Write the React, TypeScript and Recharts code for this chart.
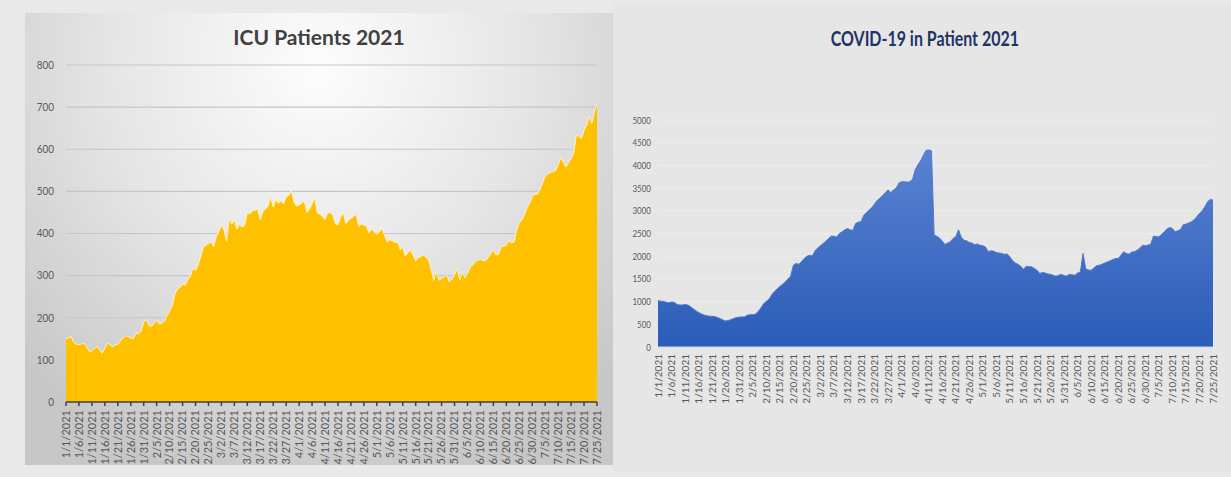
import React from "react";
import { AreaChart, Area, XAxis, YAxis, CartesianGrid } from "recharts";

// one label per day, 1/1/2021 .. 7/25/2021
const dates: string[] = Array.from({ length: 206 }, (_, i) => {
  const d = new Date(2021, 0, 1 + i);
  return `${d.getMonth() + 1}/${d.getDate()}/2021`;
});

const icuPatients = [
  150, 152, 155, 142, 137, 136, 138, 139, 132, 120,
  122, 127, 132, 124, 116, 128, 140, 136, 131, 136,
  137, 145, 152, 157, 155, 152, 150, 163, 162, 168,
  190, 196, 182, 180, 186, 195, 185, 187, 192, 205,
  216, 228, 255, 268, 272, 280, 277, 290, 298, 318,
  312, 325, 345, 366, 372, 376, 380, 368, 392, 405,
  420, 408, 382, 436, 422, 432, 410, 422, 415, 420,
  450, 446, 454, 455, 458, 432, 452, 458, 465, 487,
  463, 481, 472, 478, 470, 487, 490, 502, 474, 465,
  468, 472, 477, 450, 458, 470, 486, 448, 446, 440,
  433, 449, 449, 444, 424, 420, 438, 451, 424, 430,
  436, 440, 446, 417, 422, 420, 417, 402, 410, 404,
  398, 404, 412, 395, 380, 385, 383, 378, 380, 362,
  367, 346, 355, 360, 349, 335, 343, 345, 349, 343,
  337, 313, 289, 311, 289, 293, 297, 301, 285, 292,
  302, 317, 289, 309, 295, 305, 319, 325, 333, 337,
  338, 336, 335, 343, 352, 362, 349, 351, 368, 370,
  372, 383, 378, 380, 408, 425, 432, 445, 460, 472,
  488, 493, 493, 505, 520, 535, 541, 545, 547, 549,
  562, 580, 570, 558, 568, 578, 590, 634, 630, 626,
  645, 657, 679, 661, 689, 709,
];

const covidInpatients = [
  1020, 1010, 1005, 985, 975, 990, 985, 940, 925, 925,
  935, 925, 890, 840, 800, 760, 730, 705, 690, 680,
  676, 670, 650, 625, 595, 575, 585, 605, 630, 650,
  660, 662, 665, 700, 713, 710, 725, 780, 860, 950,
  1010, 1050, 1150, 1220, 1280, 1330, 1380, 1430, 1500, 1560,
  1800, 1840, 1820, 1880, 1950, 2000, 2020, 2005, 2120, 2180,
  2230, 2280, 2330, 2390, 2440, 2440, 2420, 2500, 2540, 2580,
  2610, 2580, 2570, 2720, 2750, 2760, 2900, 2960, 3020, 3070,
  3150, 3230, 3280, 3340, 3400, 3460, 3400, 3460, 3500, 3610,
  3640, 3640, 3630, 3640, 3690, 3900, 4010, 4100, 4220, 4330,
  4340, 4320, 2460, 2440, 2400, 2330, 2260, 2290, 2320, 2390,
  2430, 2580, 2420, 2350, 2340, 2300, 2290, 2250, 2270, 2240,
  2230, 2200, 2100, 2120, 2110, 2080, 2070, 2060, 2040, 2050,
  1985, 1900, 1850, 1820, 1780, 1710, 1780, 1770, 1765, 1730,
  1690, 1620, 1640, 1630, 1610, 1600, 1580, 1560, 1580, 1600,
  1570, 1566, 1600, 1590, 1581, 1630, 1654, 2060, 1720, 1695,
  1691, 1740, 1790, 1800, 1824, 1850, 1875, 1900, 1926, 1950,
  1949, 2020, 2096, 2060, 2044, 2090, 2100, 2132, 2180, 2243,
  2230, 2243, 2265, 2441, 2430, 2426, 2480, 2537, 2600, 2632,
  2610, 2537, 2560, 2588, 2690, 2706, 2730, 2757, 2800, 2868,
  2941, 3000, 3088, 3198, 3250, 3235,
];

const icuTicks = [0, 100, 200, 300, 400, 500, 600, 700, 800];
const covidTicks = [0, 500, 1000, 1500, 2000, 2500, 3000, 3500, 4000, 4500, 5000];

const icuData = dates.map((date, i) => ({ date, icu: icuPatients[i] }));
const covidData = dates.map((date, i) => ({ date, covid: covidInpatients[i] }));

const FONT = "Lato, 'Noto Sans', sans-serif";

function DateTick(props: any) {
  const { x, y, payload, size } = props;
  return (
    <g transform={`translate(${x},${y})`}>
      <text
        x={0}
        y={0}
        dy="0.35em"
        textAnchor="end"
        transform="rotate(-90)"
        fill="#595959"
        fontSize={size}
        fontFamily={FONT}
      >
        {payload.value}
      </text>
    </g>
  );
}

function ValueTick(props: any) {
  const { x, y, payload, size, squeeze } = props;
  return (
    <text
      transform={`translate(${x},${y}) scale(${squeeze},1)`}
      dy="0.35em"
      textAnchor="end"
      fill="#595959"
      fontSize={size}
      fontFamily={FONT}
    >
      {payload.value}
    </text>
  );
}

export default function App() {
  return (
    <div
      style={{
        position: "absolute",
        left: 0,
        top: 0,
        width: 1231,
        height: 477,
        background: "#e9e9e9",
        overflow: "hidden",
        fontFamily: FONT,
      }}
    >
      {/* left panel with soft radial shading */}
      <div
        style={{
          position: "absolute",
          left: 25,
          top: 13,
          width: 588,
          height: 452,
          background:
            "radial-gradient(ellipse 70% 95% at 50% 12%, #fdfdfd 0%, #e6e6e6 50%, #c7c7c7 100%)",
        }}
      />
      <div
        style={{
          position: "absolute",
          left: 613,
          top: 4,
          width: 618,
          height: 468,
          background: "#e6e6e6",
        }}
      />

      <div
        style={{
          position: "absolute",
          left: 25,
          width: 588,
          top: 24,
          textAlign: "center",
          fontSize: 21,
          fontWeight: 700,
          color: "#404040",
        }}
      >
        ICU Patients 2021
      </div>

      <div
        style={{
          position: "absolute",
          left: 613,
          width: 618,
          top: 25,
          textAlign: "center",
        }}
      >
        <span
          style={{
            display: "inline-block",
            marginLeft: 6,
            fontSize: 21,
            fontWeight: 700,
            color: "#1f3366",
            transform: "scaleX(0.76)",
          }}
        >
          COVID-19 in Patient 2021
        </span>
      </div>

      <div style={{ position: "absolute", left: 0, top: 0 }}>
        <AreaChart
          width={620}
          height={477}
          data={icuData}
          margin={{ top: 65, right: 23, bottom: 5, left: 26 }}
        >
          <CartesianGrid vertical={false} stroke="#c6c6c6" strokeWidth={1.2} />
          <XAxis
            dataKey="date"
            interval={4}
            height={70}
            tickSize={4}
            tickMargin={4}
            axisLine={{ stroke: "#404040", strokeWidth: 1.5 }}
            tickLine={{ stroke: "#404040", strokeWidth: 1.5 }}
            tick={<DateTick size={11} />}
          />
          <YAxis
            width={40}
            domain={[0, 800]}
            ticks={icuTicks}
            interval={0}
            axisLine={false}
            tickLine={false}
            tickSize={0}
            tickMargin={12}
            tick={<ValueTick size={11} squeeze={0.9} />}
          />
          <Area
            type="linear"
            dataKey="icu"
            fill="#ffc000"
            fillOpacity={1}
            stroke="#fff3c4"
            strokeWidth={1}
            dot={false}
            activeDot={false}
            isAnimationActive={false}
          />
        </AreaChart>
      </div>

      <div style={{ position: "absolute", left: 612, top: 0 }}>
        <AreaChart
          width={619}
          height={477}
          data={covidData}
          margin={{ top: 120, right: 18, bottom: 60, left: 6 }}
        >
          <defs>
            <linearGradient id="covidFill" x1="0" y1="0" x2="0" y2="1">
              <stop offset="0%" stopColor="#5a82d2" />
              <stop offset="100%" stopColor="#2b5cb8" />
            </linearGradient>
          </defs>
          <CartesianGrid vertical={false} stroke="#ededed" />
          <XAxis
            dataKey="date"
            interval={4}
            height={70}
            tickSize={0}
            tickMargin={7}
            axisLine={{ stroke: "#c9d4ea" }}
            tickLine={false}
            tick={<DateTick size={10} />}
          />
          <YAxis
            width={40}
            domain={[0, 5000]}
            ticks={covidTicks}
            interval={0}
            axisLine={false}
            tickLine={false}
            tickSize={0}
            tickMargin={7}
            tick={<ValueTick size={10} squeeze={0.8} />}
          />
          <Area
            type="linear"
            dataKey="covid"
            fill="url(#covidFill)"
            fillOpacity={1}
            stroke="#4f79cc"
            strokeWidth={1}
            dot={false}
            activeDot={false}
            isAnimationActive={false}
          />
        </AreaChart>
      </div>
    </div>
  );
}
